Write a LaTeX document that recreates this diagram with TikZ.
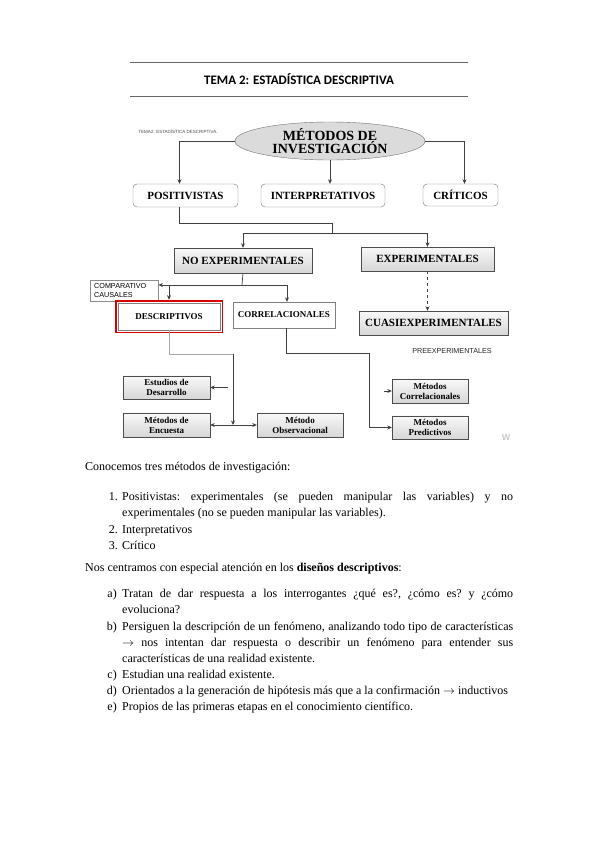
\documentclass[tikz,border=0pt]{standalone}
\usepackage{fontspec}
\setmainfont{Liberation Serif}
\setsansfont{Liberation Sans}
\newfontfamily\cabecera{Carlito}
\usetikzlibrary{arrows.meta,shapes.geometric,shadows,fit}

\begin{document}
\begin{tikzpicture}[x=1pt,y=-1pt,
    linea/.style={draw=black!75, line width=0.7pt},
    flecha/.style={linea, -{Stealth[length=4.5pt,width=4pt]}},
    doble/.style={linea, {Stealth[length=4.5pt,width=4pt]}-{Stealth[length=4.5pt,width=4pt]}},
    redondo/.style={draw=black!55, rounded corners=4pt, fill=white, inner sep=0pt,
                    font=\bfseries\fontsize{11}{12}\selectfont},
    gris/.style={draw=black!70, top color=gray!5, bottom color=gray!32, inner sep=0pt, align=center,
                 drop shadow={shadow xshift=1.2pt, shadow yshift=-1.2pt, fill=black!65, opacity=1}},
    grande/.style={gris, font=\bfseries\fontsize{11}{12}\selectfont},
    chico/.style={gris, minimum width=87pt, minimum height=23.5pt, font=\bfseries\fontsize{9}{10}\selectfont},
    blanco/.style={draw=black!50, fill=white, inner sep=0pt, align=center,
                   drop shadow={shadow xshift=1pt, shadow yshift=-1pt, fill=black!40, opacity=1},
                   font=\bfseries\fontsize{9}{10}\selectfont},
    nota/.style={font=\sffamily\fontsize{7.2}{9}\selectfont, inner sep=0pt},
    texto/.style={font=\fontsize{12}{16.3}\selectfont, inner sep=0pt},
    parrafo/.style={texto, text width=391pt, align=justify,
                    execute at begin node={\frenchspacing\hyphenpenalty=10000\tolerance=9999\relax}}
  ]
  \fill[white] (0,0) rectangle (599,848);
  \useasboundingbox (0,0) rectangle (599,848);

  % cabecera de la pagina
  \draw[black!60, line width=0.8pt] (130,62) -- (468,62);
  \draw[black!60, line width=0.8pt] (130,96) -- (468,96);
  \node[font=\cabecera\bfseries\fontsize{13}{15}\selectfont] (titulo) at (299,79) {TEMA 2: ESTADÍSTICA DESCRIPTIVA};

  % esquema
  \node[font=\sffamily\fontsize{4.5}{5}\selectfont, text=black!70] (encabezado) at (178,132) {TEMA2: ESTADÍSTICA DESCRIPTIVA.};
  \node[ellipse, draw=black!55, fill=gray!28, minimum width=190pt, minimum height=38pt, inner sep=0pt,
        align=center, font=\bfseries\fontsize{14}{13.5}\selectfont] (metodos) at (330,141) {MÉTODOS DE\\INVESTIGACIÓN};

  \node[redondo, minimum width=105pt, minimum height=23pt] (posit) at (185.5,195.5) {POSITIVISTAS};
  \node[redondo, minimum width=124pt, minimum height=23pt] (interp) at (323,195.5) {INTERPRETATIVOS};
  \node[redondo, minimum width=75pt, minimum height=22pt] (criticos) at (460.5,195) {CRÍTICOS};

  \node[grande, minimum width=138pt, minimum height=25pt] (noexp) at (243,260.5) {NO EXPERIMENTALES};
  \node[grande, minimum width=133pt, minimum height=24pt] (exp) at (427.5,259) {EXPERIMENTALES};
  \node[grande, minimum width=149pt, minimum height=24pt] (cuasi) at (433.5,323) {CUASIEXPERIMENTALES};

  \node[nota, draw=black!45, fill=white, minimum width=68pt, minimum height=21pt, align=left,
        anchor=north west, inner xsep=4pt, inner ysep=3pt, text width=60pt] (compcaus) at (90,280) {COMPARATIVO\\CAUSALES};
  \node[blanco, minimum width=102pt, minimum height=27pt] (descr) at (169,316.5) {DESCRIPTIVOS};
  \node[draw=red!85!black, line width=1.8pt, inner sep=2.2pt, fit=(descr)] (resalte) {};
  \node[blanco, minimum width=102pt, minimum height=26pt] (correl) at (284,315) {CORRELACIONALES};
  \node[nota, text=black!85] (preexp) at (452,351) {PREEXPERIMENTALES};

  \node[chico] (estudios) at (166.5,387.5) {Estudios de\\Desarrollo};
  \node[chico] (encuesta) at (166.5,425) {Métodos de\\Encuesta};
  \node[chico, minimum width=86pt] (observ) at (300,425) {Método\\Observacional};
  \node[chico, minimum width=76pt] (mcorrel) at (430,391) {Métodos\\Correlacionales};
  \node[chico, minimum width=76pt] (mpred) at (430,427.5) {Métodos\\Predictivos};
  \node[font=\sffamily\bfseries\fontsize{9}{9}\selectfont, text=gray!40] (marca) at (506,437) {W};

  % puntos de giro
  \coordinate (ramaA) at (332,223);
  \coordinate (ramaB) at (332,233);
  \coordinate (ramaC) at (242,285);
  \coordinate (codo) at (233,354);
  \coordinate (cruce) at (233,425);
  \coordinate (stubA) at (228,387.5);
  \coordinate (codo2) at (369,353);
  \coordinate (stubB) at (384,391);

  \draw[flecha] (metodos.west) -| ([xshift=-6pt]posit.north);
  \draw[flecha] (metodos.south) -- (metodos.south |- interp.north);
  \draw[flecha] (metodos.east) -| ([xshift=4pt]criticos.north);

  \draw[linea] ([xshift=-6pt]posit.south) |- (ramaA) -- (ramaB);
  \draw[flecha] (ramaB) -| (noexp.north);
  \draw[flecha] (ramaB) -| (exp.north);
  \draw[flecha, dashed] (exp.south) -- (exp.south |- cuasi.north);

  \draw[linea] (noexp.south) -- (ramaC);
  \draw[flecha] (ramaC) -- (compcaus.east |- ramaC);
  \draw[flecha] (ramaC) -| (resalte.north);
  \draw[flecha] (ramaC) -| ([xshift=3pt]correl.north);

  \draw[linea, draw=black!35] (descr.south) |- (codo);
  \draw[flecha] (codo) -- (cruce);
  \draw[flecha] (stubA) -- (estudios.east);
  \draw[doble] (encuesta.east) -- (observ.west);

  \draw[linea] ([xshift=2pt]correl.south) |- (codo2);
  \draw[flecha] (codo2) |- (mpred.west);
  \draw[flecha] (stubB) -- (mcorrel.west);

  % texto de la pagina
  \node[texto, anchor=base west] (conocemos) at (85,470) {Conocemos tres métodos de investigación:};
  \node[texto, anchor=base east] (n1) at (118,500) {1.};
  \node[parrafo, anchor=base west] (i1) at (122,500)
    {Positivistas: experimentales (se pueden manipular las variables) y no\linebreak
     experimentales (no se pueden manipular las variables).};
  \node[texto, anchor=base east] (n2) at (118,533) {2.};
  \node[texto, anchor=base west] (i2) at (122,533) {Interpretativos};
  \node[texto, anchor=base east] (n3) at (118,549) {3.};
  \node[texto, anchor=base west] (i3) at (122,549) {Crítico};

  \node[texto, anchor=base west] (centramos) at (85,571) {Nos centramos con especial atención en los \textbf{diseños descriptivos}:};
  \node[texto, anchor=base east] (la) at (117,597) {a)};
  \node[parrafo, anchor=base west] (ia) at (122,597)
    {Tratan de dar respuesta a los interrogantes ¿qué es?, ¿cómo es? y ¿cómo\linebreak
     evoluciona?};
  \node[texto, anchor=base east] (lb) at (117,630) {b)};
  \node[parrafo, anchor=base west] (ib) at (122,630)
    {Persiguen la descripción de un fenómeno, analizando todo tipo de características\linebreak
     $\rightarrow$ nos intentan dar respuesta o describir un fenómeno para entender sus\linebreak
     características de una realidad existente.};
  \node[texto, anchor=base east] (lc) at (117,678) {c)};
  \node[texto, anchor=base west] (ic) at (122,678) {Estudian una realidad existente.};
  \node[texto, anchor=base east] (ld) at (117,694) {d)};
  \node[texto, anchor=base west] (id) at (122,694) {Orientados a la generación de hipótesis más que a la confirmación $\rightarrow$ inductivos};
  \node[texto, anchor=base east] (le) at (117,710) {e)};
  \node[texto, anchor=base west] (ie) at (122,710) {Propios de las primeras etapas en el conocimiento científico.};
\end{tikzpicture}
\end{document}
